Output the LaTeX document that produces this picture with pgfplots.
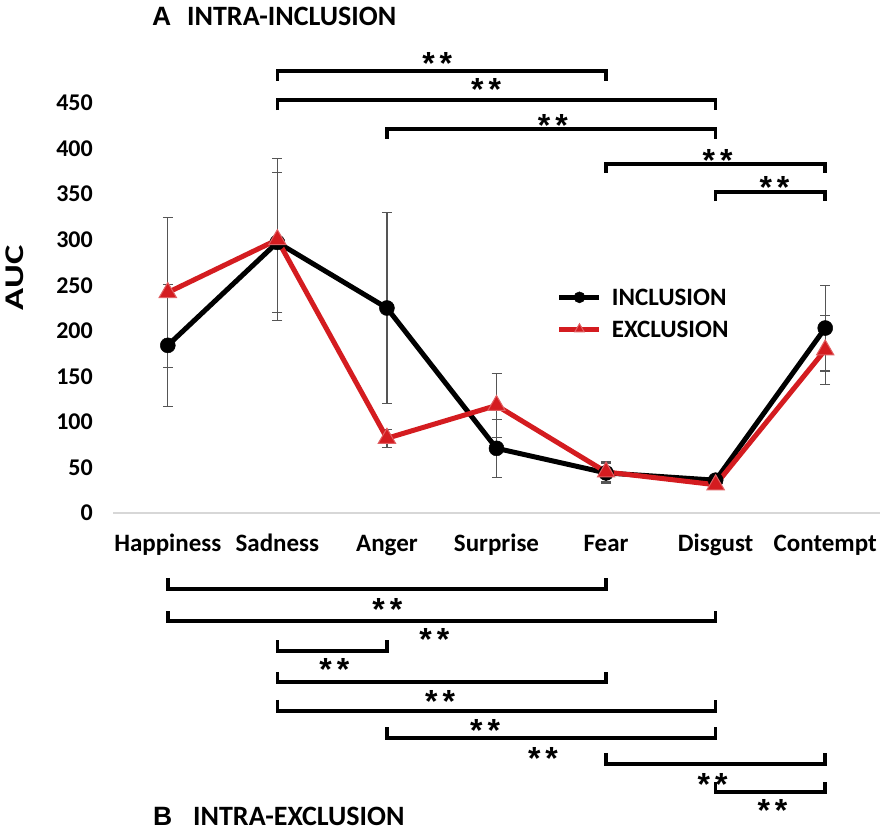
\documentclass[border=0pt]{standalone}
\usepackage{fontspec}
\setmainfont{Carlito}
\newfontfamily\arialf{Liberation Sans}
\usepackage{pgfplots}
\pgfplotsset{compat=1.18}
\definecolor{exred}{RGB}{212,28,32}
\definecolor{ebcol}{RGB}{85,85,85}
\definecolor{axgray}{RGB}{215,215,215}
\newcommand\labfont{\fontsize{25}{30}\selectfont\bfseries}
\newcommand\ticfont{\fontsize{24}{29}\selectfont\bfseries}
\newcommand\stars{{\arialf\fontsize{32}{36}\selectfont\bfseries *\hspace{5pt}*}}
\begin{document}
\begin{tikzpicture}
\useasboundingbox (0,0) rectangle (886pt,835pt);
\node[anchor=base west, inner sep=0pt] at (152pt,809pt) {\arialf\fontsize{26.5}{30}\selectfont\bfseries A};
\node[anchor=base west, inner sep=0pt] at (187pt,809pt) {\fontsize{28}{32}\selectfont\bfseries INTRA-INCLUSION};
\node[anchor=base west, inner sep=0pt] at (153pt,9pt) {\arialf\fontsize{26.5}{30}\selectfont\bfseries B};
\node[anchor=base west, inner sep=0pt] at (193pt,9pt) {\fontsize{28}{32}\selectfont\bfseries INTRA-EXCLUSION};
\node[rotate=90, inner sep=0pt] at (14.5pt,557pt) {\scalebox{1.35}[1]{\fontsize{27}{30}\selectfont\bfseries AUC}};
\begin{axis}[
  at={(113pt,322pt)}, anchor=south west,
  scale only axis, width=767pt, height=410pt,
  xmin=-0.5, xmax=6.5, ymin=0, ymax=450,
  clip=false,
  axis x line*=bottom, axis y line*=left,
  x axis line style={-, draw=axgray, line width=2pt},
  y axis line style={draw=none},
  major tick length=0pt, tick style={draw=none},
  xtick={0,1,2,3,4,5,6},
  xticklabels={Happiness,Sadness,Anger,Surprise,Fear,Disgust,Contempt},
  xticklabel style={anchor=base, inner sep=0pt, yshift=-38pt, font=\labfont},
  ytick={0,50,...,450},
  yticklabel style={anchor=east, inner sep=0pt, xshift=-20pt, font=\ticfont},
  /pgf/number format/assume math mode=true,
  legend style={at={(axis cs:3.552,245.9)}, anchor=north west, draw=none, fill=none,
    inner sep=0pt, outer sep=0pt, row sep=14pt, font=\labfont,
    nodes={inner sep=0pt, anchor=base west},
    /tikz/every odd column/.append style={column sep=10pt}},
  legend cell align=left,
  legend image code/.code={\draw[mark repeat=2,mark phase=2,#1,mark size=5.5pt] plot coordinates {(0pt,8pt) (20pt,8pt) (40pt,8pt)};},
]
% error bars
\addplot[draw=none, mark=none, forget plot,
  error bars/.cd, y dir=both, y explicit,
  error bar style={draw=ebcol, line width=1.3pt},
  error mark options={draw=ebcol, rotate=90, mark size=5pt, line width=1.3pt}]
  coordinates {(0,184) +- (0,67) (1,297) +- (0,77) (2,225) +- (0,105) (3,71) +- (0,32) (4,44) +- (0,11) (5,36) +- (0,5) (6,203) +- (0,47)};
\addplot[draw=none, mark=none, forget plot,
  error bars/.cd, y dir=both, y explicit,
  error bar style={draw=ebcol, line width=1.3pt},
  error mark options={draw=ebcol, rotate=90, mark size=5pt, line width=1.3pt}]
  coordinates {(0,242) +- (0,82) (1,300) +- (0,89) (2,82) +- (0,10) (3,118) +- (0,35) (4,45) +- (0,11) (5,31) +- (0,4) (6,179) +- (0,38)};
% lines
\addplot[black, line width=5pt, mark=*, mark size=7.5pt, mark options={fill=black, draw=black, line width=0.5pt}]
  coordinates {(0,184) (1,297) (2,225) (3,71) (4,44) (5,36) (6,203)};
\addlegendentry{INCLUSION}
\addplot[exred, line width=5pt, mark=triangle*, mark size=10pt, mark options={fill=exred, draw=exred!70!white, line width=1pt}]
  coordinates {(0,242) (1,300) (2,82) (3,118) (4,45) (5,31) (6,179)};
\addlegendentry{EXCLUSION}
% top brackets
\begin{scope}[line width=3.5pt, black]
\draw (axis cs:1,474.2) -- (axis cs:1,485.1) -- (axis cs:4,485.1) -- (axis cs:4,474.2);
\draw (axis cs:1,442.3) -- (axis cs:1,453.3) -- (axis cs:5,453.3) -- (axis cs:5,442.3);
\draw (axis cs:2,410.5) -- (axis cs:2,421.5) -- (axis cs:5,421.5) -- (axis cs:5,410.5);
\draw (axis cs:4,373.2) -- (axis cs:4,383.1) -- (axis cs:6,383.1) -- (axis cs:6,373.2);
\draw (axis cs:5,342.4) -- (axis cs:5,352.3) -- (axis cs:6,352.3) -- (axis cs:6,342.4);
% bottom brackets
\draw (axis cs:0,-71.3) -- (axis cs:0,-83.4) -- (axis cs:4,-83.4) -- (axis cs:4,-71.3);
\draw (axis cs:0,-107.6) -- (axis cs:0,-118.5) -- (axis cs:5,-118.5) -- (axis cs:5,-107.6);
\draw (axis cs:1,-139.4) -- (axis cs:1,-151.5) -- (axis cs:2,-151.5) -- (axis cs:2,-139.4);
\draw (axis cs:1,-174.5) -- (axis cs:1,-185.5) -- (axis cs:4,-185.5) -- (axis cs:4,-174.5);
\draw (axis cs:1,-205.2) -- (axis cs:1,-217.3) -- (axis cs:5,-217.3) -- (axis cs:5,-205.2);
\draw (axis cs:2,-234.9) -- (axis cs:2,-247.0) -- (axis cs:5,-247.0) -- (axis cs:5,-234.9);
\draw (axis cs:4,-263.4) -- (axis cs:4,-275.5) -- (axis cs:6,-275.5) -- (axis cs:6,-263.4);
\draw (axis cs:5,-295.2) -- (axis cs:5,-306.2) -- (axis cs:6,-306.2) -- (axis cs:6,-295.2);
\end{scope}
% stars
\begin{scope}[every node/.style={anchor=base, inner sep=0pt, yshift=-18pt}]
\node at (axis cs:2.459,500.5) {\stars};
\node at (axis cs:2.905,472.0) {\stars};
\node at (axis cs:3.515,433.5) {\stars};
\node at (axis cs:5.018,395.1) {\stars};
\node at (axis cs:5.537,364.4) {\stars};
\node at (axis cs:2.004,-97.7) {\stars};
\node at (axis cs:2.432,-131.7) {\stars};
\node at (axis cs:1.521,-164.6) {\stars};
\node at (axis cs:2.486,-198.7) {\stars};
\node at (axis cs:2.896,-230.5) {\stars};
\node at (axis cs:3.424,-262.3) {\stars};
\node at (axis cs:4.973,-289.8) {\stars};
\node at (axis cs:5.519,-318.3) {\stars};
\end{scope}
\end{axis}
\end{tikzpicture}
\end{document}
